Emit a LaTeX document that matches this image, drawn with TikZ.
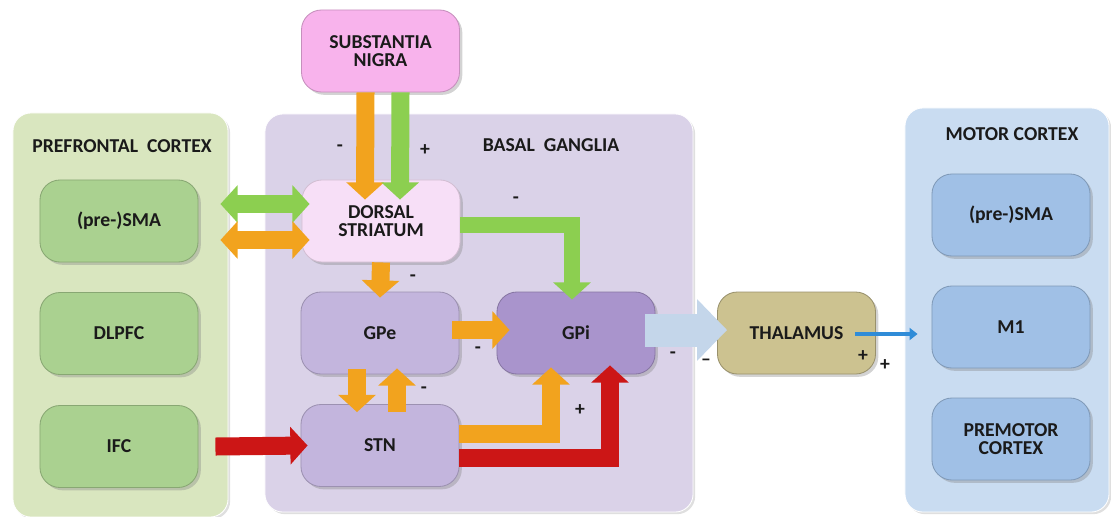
\documentclass[tikz,border=0pt]{standalone}
\usepackage{fontspec}
\setmainfont{Carlito}
\usetikzlibrary{arrows.meta,calc,shadows}

\definecolor{pfcbg}{HTML}{D9E6BF}
\definecolor{bgbg}{HTML}{DAD2E8}
\definecolor{mcbg}{HTML}{C9DCF1}
\definecolor{snfill}{HTML}{F8B3EC}
\definecolor{dsfill}{HTML}{F7DFF7}
\definecolor{gpfill}{HTML}{C3B5DD}
\definecolor{gpifill}{HTML}{A994CC}
\definecolor{pfcfill}{HTML}{AAD190}
\definecolor{thfill}{HTML}{CCC290}
\definecolor{mcfill}{HTML}{A0C0E6}
\definecolor{arrorange}{HTML}{F2A31E}
\definecolor{arrgreen}{HTML}{8CCF50}
\definecolor{arrred}{HTML}{CC1616}
\definecolor{arrpale}{HTML}{C4D6EA}
\definecolor{arrblue}{HTML}{2F8CD8}
\definecolor{txt}{HTML}{1A1A1A}

\begin{document}
\begin{tikzpicture}[x=0.025cm,y=-0.025cm,
    font=\bfseries\fontsize{14}{12.8}\selectfont, text=txt,
    region/.style={rounded corners=0.45cm, draw=white, line width=0.6pt,
        drop shadow={shadow xshift=1.5pt,shadow yshift=-1.5pt,opacity=0.25}},
    area/.style={rounded corners=0.5cm, minimum width=3.95cm, minimum height=2.05cm,
        align=center, line width=0.6pt,
        drop shadow={shadow xshift=2pt,shadow yshift=-2pt,opacity=0.35}},
    sign/.style={inner sep=1pt},
    block/.style={line width=0.45cm, line join=miter,
        -{Triangle[width=0.92cm,length=0.43cm]}},
    twoway/.style={line width=0.45cm,
        {Triangle[width=0.92cm,length=0.43cm]}-{Triangle[width=0.92cm,length=0.43cm]}}]

    \useasboundingbox (0,0) rectangle (1111,516);
    \clip (0,0) rectangle (1111,516);

    % regions
    \node[region, fill=pfcbg, minimum width=5.375cm, minimum height=10.1cm] (pfc) at (120.5,315) {};
    \node[region, fill=bgbg, minimum width=10.7cm, minimum height=9.95cm] (bg) at (479,313) {};
    \node[region, fill=mcbg, minimum width=5.1cm, minimum height=10.1cm] (mc) at (1007,310) {};

    \node (pfctitle) at (122,146) {PREFRONTAL~~CORTEX};
    \node (bgtitle) at (551,145) {BASAL~~GANGLIA};
    \node (mctitle) at (1012,134) {MOTOR CORTEX};

    % nodes
    \node[area, fill=snfill, draw=snfill!80!black] (sn) at (380.5,51) {SUBSTANTIA\\NIGRA};

    \node[area, fill=pfcfill, draw=pfcfill!80!black] (presma) at (119,221) {(pre-)SMA};
    \node[area, fill=pfcfill, draw=pfcfill!80!black] (dlpfc) at (119,333.5) {DLPFC};
    \node[area, fill=pfcfill, draw=pfcfill!80!black] (ifc) at (119,446.5) {IFC};

    \node[area, fill=dsfill, draw=dsfill!85!black] (ds) at (381,221) {DORSAL\\STRIATUM};
    \node[area, fill=gpfill, draw=gpfill!80!black] (gpe) at (380,333) {GPe};
    \node[area, fill=gpifill, draw=gpifill!80!black] (gpi) at (576,333) {GPi};
    \node[area, fill=gpfill, draw=gpfill!80!black] (stn) at (380,445.5) {STN};

    \node[area, fill=thfill, draw=thfill!75!black] (thal) at (796.5,333) {THALAMUS};

    \node[area, fill=mcfill, draw=mcfill!80!black] (msma) at (1011,215) {(pre-)SMA};
    \node[area, fill=mcfill, draw=mcfill!80!black] (mone) at (1011,327) {M1};
    \node[area, fill=mcfill, draw=mcfill!80!black] (pmc) at (1011,439) {PREMOTOR\\CORTEX};

    % connections
    \draw[block, arrorange] ($(sn.south)+(-15,0)$) -- ($(ds.north)+(-16,20)$);
    \draw[block, arrgreen] ($(sn.south)+(20,0)$) -- ($(ds.north)+(19,20)$);

    \draw[twoway, arrgreen] ($(presma.east)+(22,-17)$) -- ($(ds.west)+(8,-17)$);
    \draw[twoway, arrorange] ($(presma.east)+(22,19)$) -- ($(ds.west)+(8,19)$);

    \draw[block, arrgreen, line width=0.4cm] ($(ds.east)+(0,4)$) -| ($(gpi.north)+(-4,8)$);
    \draw[block, arrorange] (ds.south) -- ($(gpe.north)+(0,6)$);
    \draw[block, arrorange] ($(gpe.east)+(-7,-3)$) -- ($(gpi.west)+(13,-3)$);

    \draw[block, arrorange] ($(gpe.south)+(-23,-5)$) -- ($(stn.north)+(-23,8)$);
    \draw[block, arrorange] ($(stn.north)+(17,8)$) -- ($(gpe.south)+(17,-6)$);

    \draw[block, arrorange] ($(stn.east)+(0,-12)$) -| ($(gpi.south)+(-25,-7)$);
    \draw[block, arrred] ($(stn.east)+(0,12)$) -| ($(gpi.south)+(34,-9)$);
    \draw[block, arrred] ($(ifc.east)+(17,0)$) -- ($(stn.west)+(7,0)$);

    \draw[arrpale, line width=0.825cm, -{Triangle[width=1.5cm,length=0.75cm]}]
        ($(gpi.east)+(-10,-3)$) -- ($(thal.west)+(10,-3)$);
    \draw[arrblue, line width=0.1cm, -{Triangle[width=0.3cm,length=0.2cm]}]
        ($(thal.east)+(-21,1)$) -- ($(mone.west)+(-14,7)$);

    % signs
    \node[sign] (s1) at (340,148) {-};
    \node[sign] (s2) at (425,150) {+};
    \node[sign] (s3) at (516,200) {-};
    \node[sign] (s4) at (413,278) {-};
    \node[sign] (s5) at (478,350) {-};
    \node[sign] (s6) at (424,390) {-};
    \node[sign] (s7) at (580,410) {+};
    \node[sign] (s8) at (673,355) {-};
    \node[sign] (s9) at (706,362) {--};
    \node[sign] (s10) at (863,356) {+};
    \node[sign] (s11) at (885,365) {+};
\end{tikzpicture}
\end{document}
